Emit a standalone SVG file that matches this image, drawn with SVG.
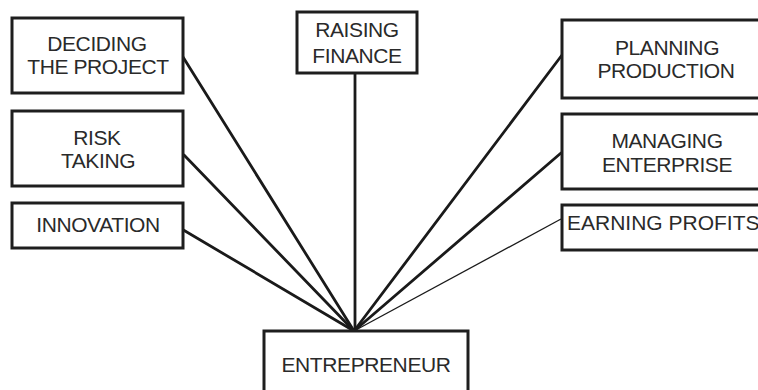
<svg xmlns="http://www.w3.org/2000/svg" width="758" height="390" viewBox="0 0 758 390">
<style>
.box{fill:#fff;stroke:#1e1e1e;stroke-width:3}
.t{font-family:"Liberation Sans",Arial,sans-serif;font-size:21px;fill:#2a2a2a;text-anchor:middle;letter-spacing:-0.4px}
.ln{stroke:#1a1a1a;stroke-width:2.8;fill:none;stroke-linecap:round}
.thin{stroke:#1a1a1a;stroke-width:1.3;fill:none}
</style>
<rect width="758" height="390" fill="#fff"/>
<g id="connectors">
<line class="ln" x1="183" y1="57" x2="354" y2="331"/>
<line class="ln" x1="184" y1="155" x2="354" y2="331"/>
<line class="ln" x1="180" y1="228" x2="354" y2="331"/>
<line class="ln" x1="355" y1="73" x2="355" y2="331"/>
<line class="ln" x1="562" y1="55" x2="354" y2="331"/>
<line class="ln" x1="561" y1="153" x2="354" y2="331"/>
<line class="thin" x1="561" y1="219" x2="354" y2="331"/>
</g>
<g id="deciding">
<rect class="box" x="12" y="18" width="171" height="75"/>
<text class="t" x="97" y="51">DECIDING</text>
<text class="t" x="98" y="74">THE PROJECT</text>
</g>
<g id="risk">
<rect class="box" x="12" y="111" width="171" height="75"/>
<text class="t" x="97" y="145">RISK</text>
<text class="t" x="98" y="168">TAKING</text>
</g>
<g id="innovation">
<rect class="box" x="12" y="203" width="171" height="45"/>
<text class="t" x="98" y="232">INNOVATION</text>
</g>
<g id="raising">
<rect class="box" x="297" y="12" width="120" height="61"/>
<text class="t" x="357" y="37">RAISING</text>
<text class="t" x="357" y="63">FINANCE</text>
</g>
<g id="planning">
<rect class="box" x="562" y="20" width="210" height="78"/>
<text class="t" x="667" y="55">PLANNING</text>
<text class="t" x="666" y="78">PRODUCTION</text>
</g>
<g id="managing">
<rect class="box" x="562" y="114" width="210" height="75"/>
<text class="t" x="667" y="148">MANAGING</text>
<text class="t" x="667" y="172">ENTERPRISE</text>
</g>
<g id="earning">
<rect class="box" x="562" y="205" width="210" height="45"/>
<text class="t" x="567" y="230" style="text-anchor:start;letter-spacing:0">EARNING PROFITS</text>
</g>
<g id="entrepreneur">
<rect class="box" x="264" y="331" width="204" height="70"/>
<text class="t" x="366" y="372">ENTREPRENEUR</text>
</g>
</svg>
